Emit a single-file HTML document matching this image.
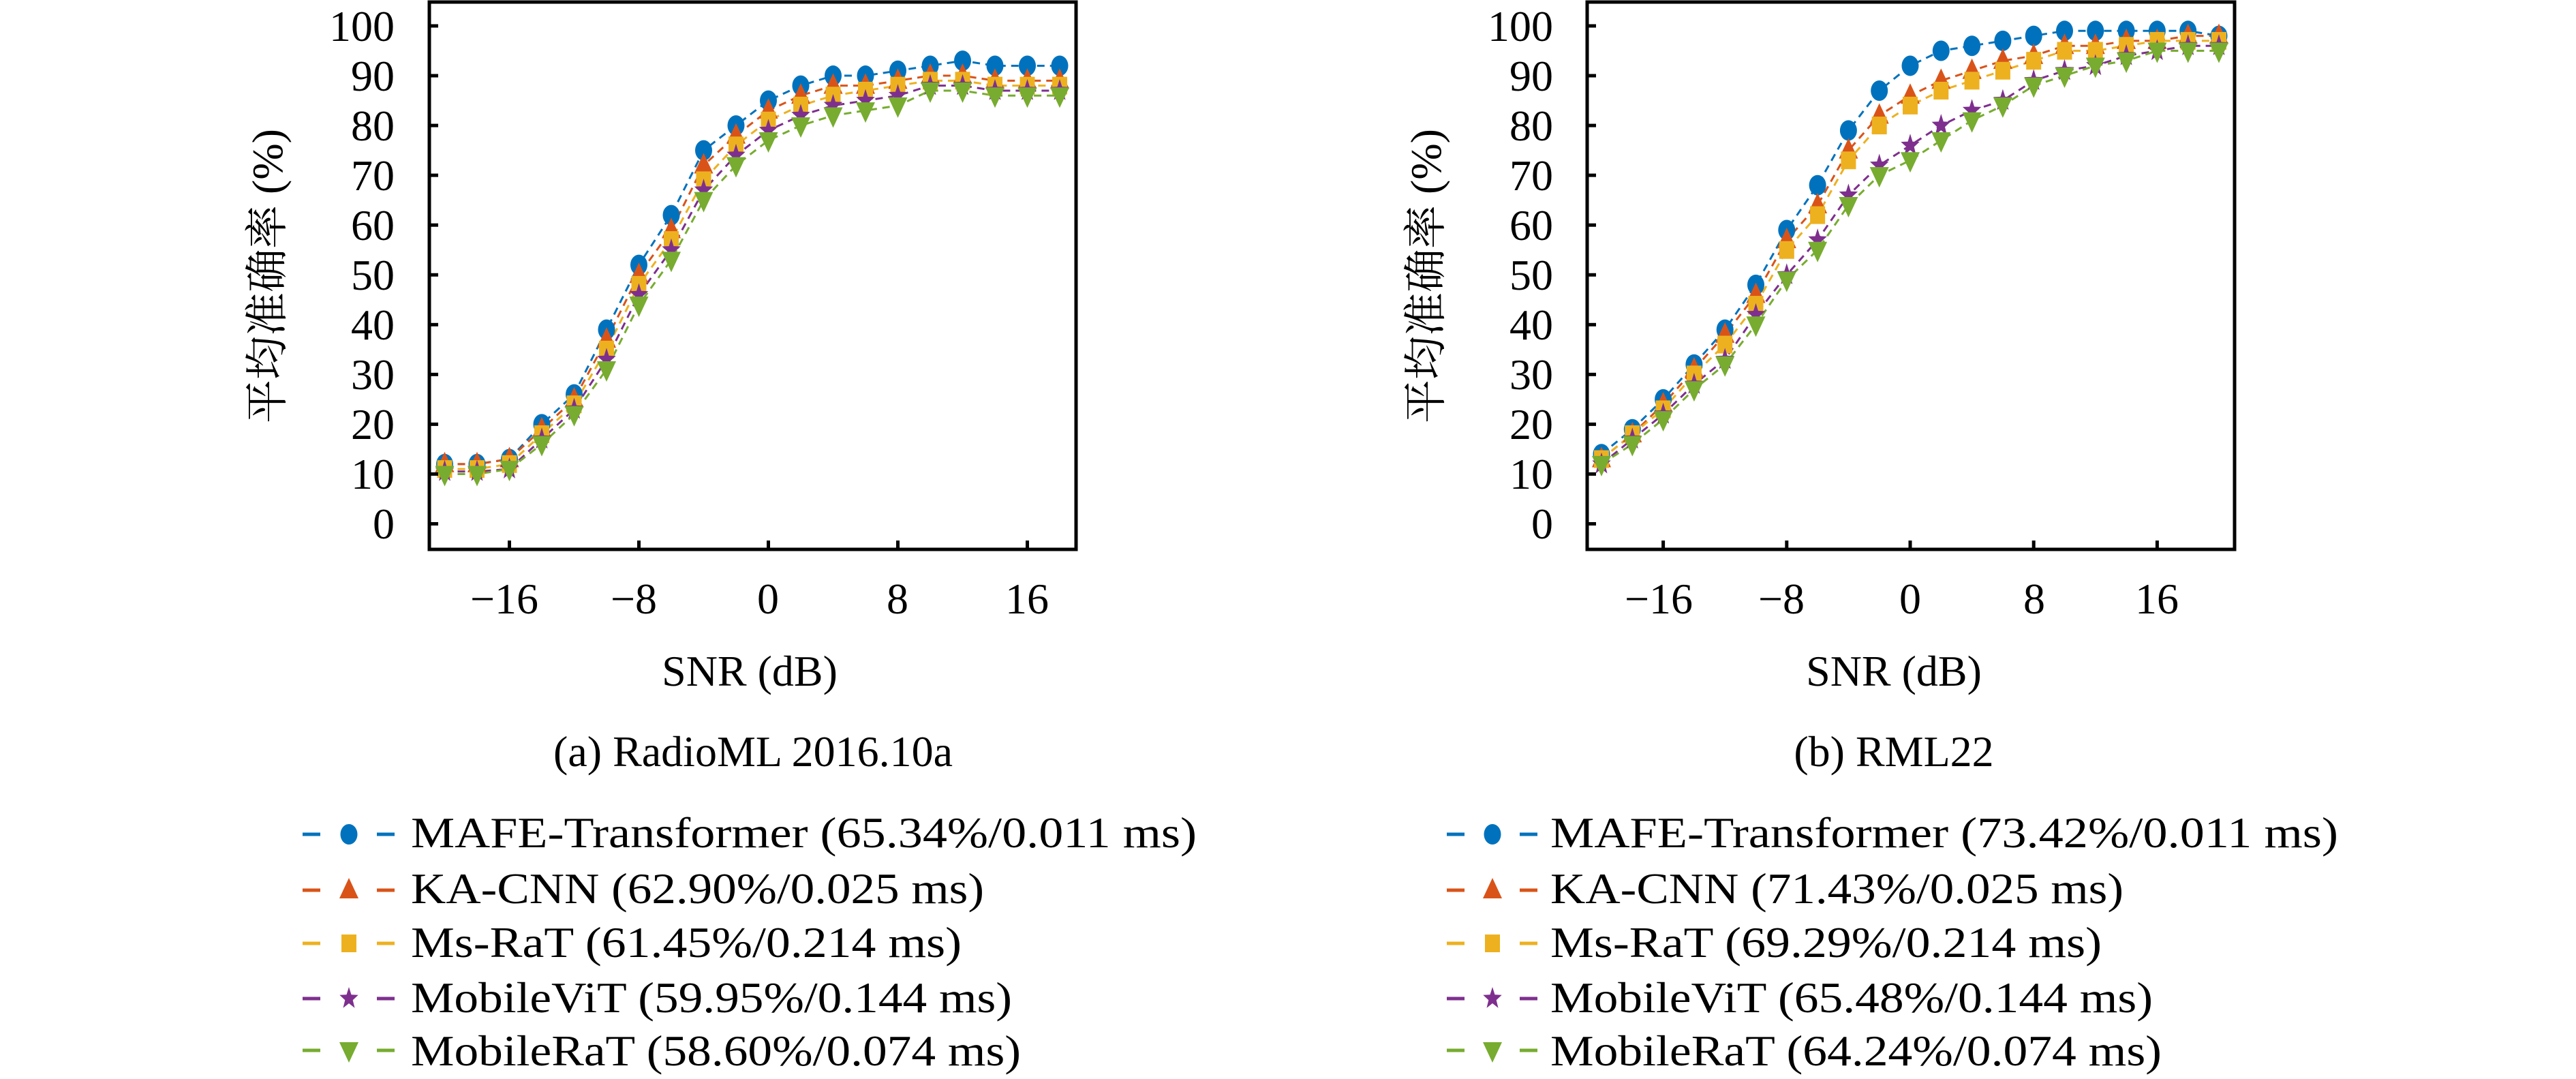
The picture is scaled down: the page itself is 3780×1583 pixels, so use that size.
<!DOCTYPE html>
<html><head><meta charset="utf-8"><style>
html,body{margin:0;padding:0;background:#fff;}
svg{display:block;}
text{font-family:"Liberation Serif","Noto Serif CJK SC",serif;fill:#000;}
</style></head><body>
<svg id="s" width="3780" height="1583" viewBox="0 0 3780 1583" xmlns="http://www.w3.org/2000/svg">
<rect width="3780" height="1583" fill="#fff"/>
<g id="plots"></g>
<rect x="630" y="3" width="949" height="803" fill="none" stroke="#000" stroke-width="5"/>
<rect x="2329" y="3" width="950" height="803" fill="none" stroke="#000" stroke-width="5"/>
<g id="ticks" stroke="#000" stroke-width="5"></g>
<g font-size="64" text-anchor="end">
<text x="579" y="60">100</text><text x="579" y="133">90</text><text x="579" y="206">80</text><text x="579" y="279">70</text><text x="579" y="352">60</text><text x="579" y="425">50</text><text x="579" y="498">40</text><text x="579" y="571">30</text><text x="579" y="644">20</text><text x="579" y="717">10</text><text x="579" y="790">0</text>
<text x="2279" y="60">100</text><text x="2279" y="133">90</text><text x="2279" y="206">80</text><text x="2279" y="279">70</text><text x="2279" y="352">60</text><text x="2279" y="425">50</text><text x="2279" y="498">40</text><text x="2279" y="571">30</text><text x="2279" y="644">20</text><text x="2279" y="717">10</text><text x="2279" y="790">0</text>
</g>
<g font-size="64" text-anchor="middle">
<text x="740" y="900">−16</text><text x="930" y="900">−8</text><text x="1127" y="900">0</text><text x="1317" y="900">8</text><text x="1507" y="900">16</text>
<text x="2434" y="900">−16</text><text x="2614" y="900">−8</text><text x="2803" y="900">0</text><text x="2985" y="900">8</text><text x="3165" y="900">16</text>
<text x="1100" y="1006">SNR (dB)</text>
<text x="2779" y="1006">SNR (dB)</text>
<text x="1105" y="1124">(a) RadioML 2016.10a</text>
<text x="2779" y="1124">(b) RML22</text>
<text transform="translate(414,405) rotate(-90)">平均准确率 (%)</text>
<text transform="translate(2114,405) rotate(-90)">平均准确率 (%)</text>
</g>
<g id="leg"></g>
<g font-size="64">
<text x="603" y="1243" textLength="1153" lengthAdjust="spacingAndGlyphs">MAFE-Transformer (65.34%/0.011 ms)</text>
<text x="603" y="1325" textLength="841" lengthAdjust="spacingAndGlyphs">KA-CNN (62.90%/0.025 ms)</text>
<text x="603" y="1404" textLength="808" lengthAdjust="spacingAndGlyphs">Ms-RaT (61.45%/0.214 ms)</text>
<text x="603" y="1485" textLength="882" lengthAdjust="spacingAndGlyphs">MobileViT (59.95%/0.144 ms)</text>
<text x="603" y="1563" textLength="895" lengthAdjust="spacingAndGlyphs">MobileRaT (58.60%/0.074 ms)</text>
<text x="2275" y="1243" textLength="1156" lengthAdjust="spacingAndGlyphs">MAFE-Transformer (73.42%/0.011 ms)</text>
<text x="2275" y="1325" textLength="841" lengthAdjust="spacingAndGlyphs">KA-CNN (71.43%/0.025 ms)</text>
<text x="2275" y="1404" textLength="809" lengthAdjust="spacingAndGlyphs">Ms-RaT (69.29%/0.214 ms)</text>
<text x="2275" y="1485" textLength="884" lengthAdjust="spacingAndGlyphs">MobileViT (65.48%/0.144 ms)</text>
<text x="2275" y="1563" textLength="897" lengthAdjust="spacingAndGlyphs">MobileRaT (64.24%/0.074 ms)</text>
</g>
</svg>
<script>
const NS="http://www.w3.org/2000/svg";
const C=["#0072BD","#D95319","#EDB120","#7E2F8E","#77AC30"];
const L=[[12,12,13,20,26,39,52,62,75,80,85,88,90,90,91,92,93,92,92,92],
[12,12,13,19,25,37,50,59,72,78,83,86,88,88,89,90,90,89,89,89],
[11,11,12,18,24,35,48,57,69,76,81,84,86,87,88,89,89,88,88,88],
[10.5,10.5,11,17,23,33,46,55,67,74,79,82,84,85,86,88,88,87,87,87],
[10,10,11,16,22,31,44,53,65,72,77,80,82,83,84,87,87,86,86,86]];
const R=[[14,19,25,32,39,48,59,68,79,87,92,95,96,97,98,99,99,99,99,99,98],
[13,18,24,31,38,46,57,64,75,82,86,89,91,93,94,96,96,97,97,98,98],
[13,18,23,30,36,44,55,62,73,80,84,87,89,91,93,95,95,96,97,97,97],
[12,17,22,28,33,42,50,57,66,72,76,80,83,85,89,91,92,94,95,96,96],
[12,16,21,27,32,40,49,55,64,70,73,77,81,84,88,90,92,93,95,95,95]];
function el(t,a,p){const e=document.createElementNS(NS,t);for(const k in a)e.setAttribute(k,a[k]);p.appendChild(e);return e;}
function marker(i,x,y,g){const c=C[i];
 if(i==0) el("ellipse",{cx:x,cy:y,rx:12.5,ry:15,fill:c},g);
 else if(i==1) el("polygon",{points:`${x},${y-18} ${x-14},${y+12} ${x+14},${y+12}`,fill:c},g);
 else if(i==2) el("rect",{x:x-11,y:y-13,width:22,height:26,fill:c},g);
 else if(i==3){let p=[];for(let k=0;k<10;k++){const r=k%2?7:17,a=-Math.PI/2+k*Math.PI/5;p.push((x+r*Math.cos(a)*0.85).toFixed(1)+","+(y+r*Math.sin(a)).toFixed(1));}el("polygon",{points:p.join(" "),fill:c},g);}
 else el("polygon",{points:`${x},${y+18} ${x-14},${y-12} ${x+14},${y-12}`,fill:c},g);
}
const P=document.getElementById("plots");
const yv=v=>768.5-v*7.305;
function draw(data,x0,dx){
 data.forEach((d,i)=>{const pts=d.map((v,k)=>[x0+(k-10)*dx,yv(v)]);
  el("polyline",{points:pts.map(p=>p.join(",")).join(" "),fill:"none",stroke:C[i],"stroke-width":3,"stroke-dasharray":"11,8"},P);});
 data.forEach((d,i)=>{d.forEach((v,k)=>marker(i,x0+(k-10)*dx,yv(v),P));});
}
draw(L,1127.5,47.5);draw(R,2803,45.3);
const T=document.getElementById("ticks");
for(let v=0;v<=100;v+=10){const y=yv(v);el("line",{x1:630,y1:y,x2:643,y2:y},T);el("line",{x1:2329,y1:y,x2:2342,y2:y},T);}
[-16,-8,0,8,16].forEach(s=>{let x=1127.5+s*23.75;el("line",{x1:x,y1:806,x2:x,y2:793},T);x=2803+s*22.65;el("line",{x1:x,y1:806,x2:x,y2:793},T);});
const G=document.getElementById("leg");
const ys=[1224,1306,1384,1465,1541];
[[444,512,579],[2123,2190,2256]].forEach(([a,m,b])=>{ys.forEach((y,i)=>{
 el("line",{x1:a,y1:y,x2:a+26,y2:y,stroke:C[i],"stroke-width":5},G);
 el("line",{x1:b-26,y1:y,x2:b,y2:y,stroke:C[i],"stroke-width":5},G);
 marker(i,m,y,G);});});
</script>
</body></html>
